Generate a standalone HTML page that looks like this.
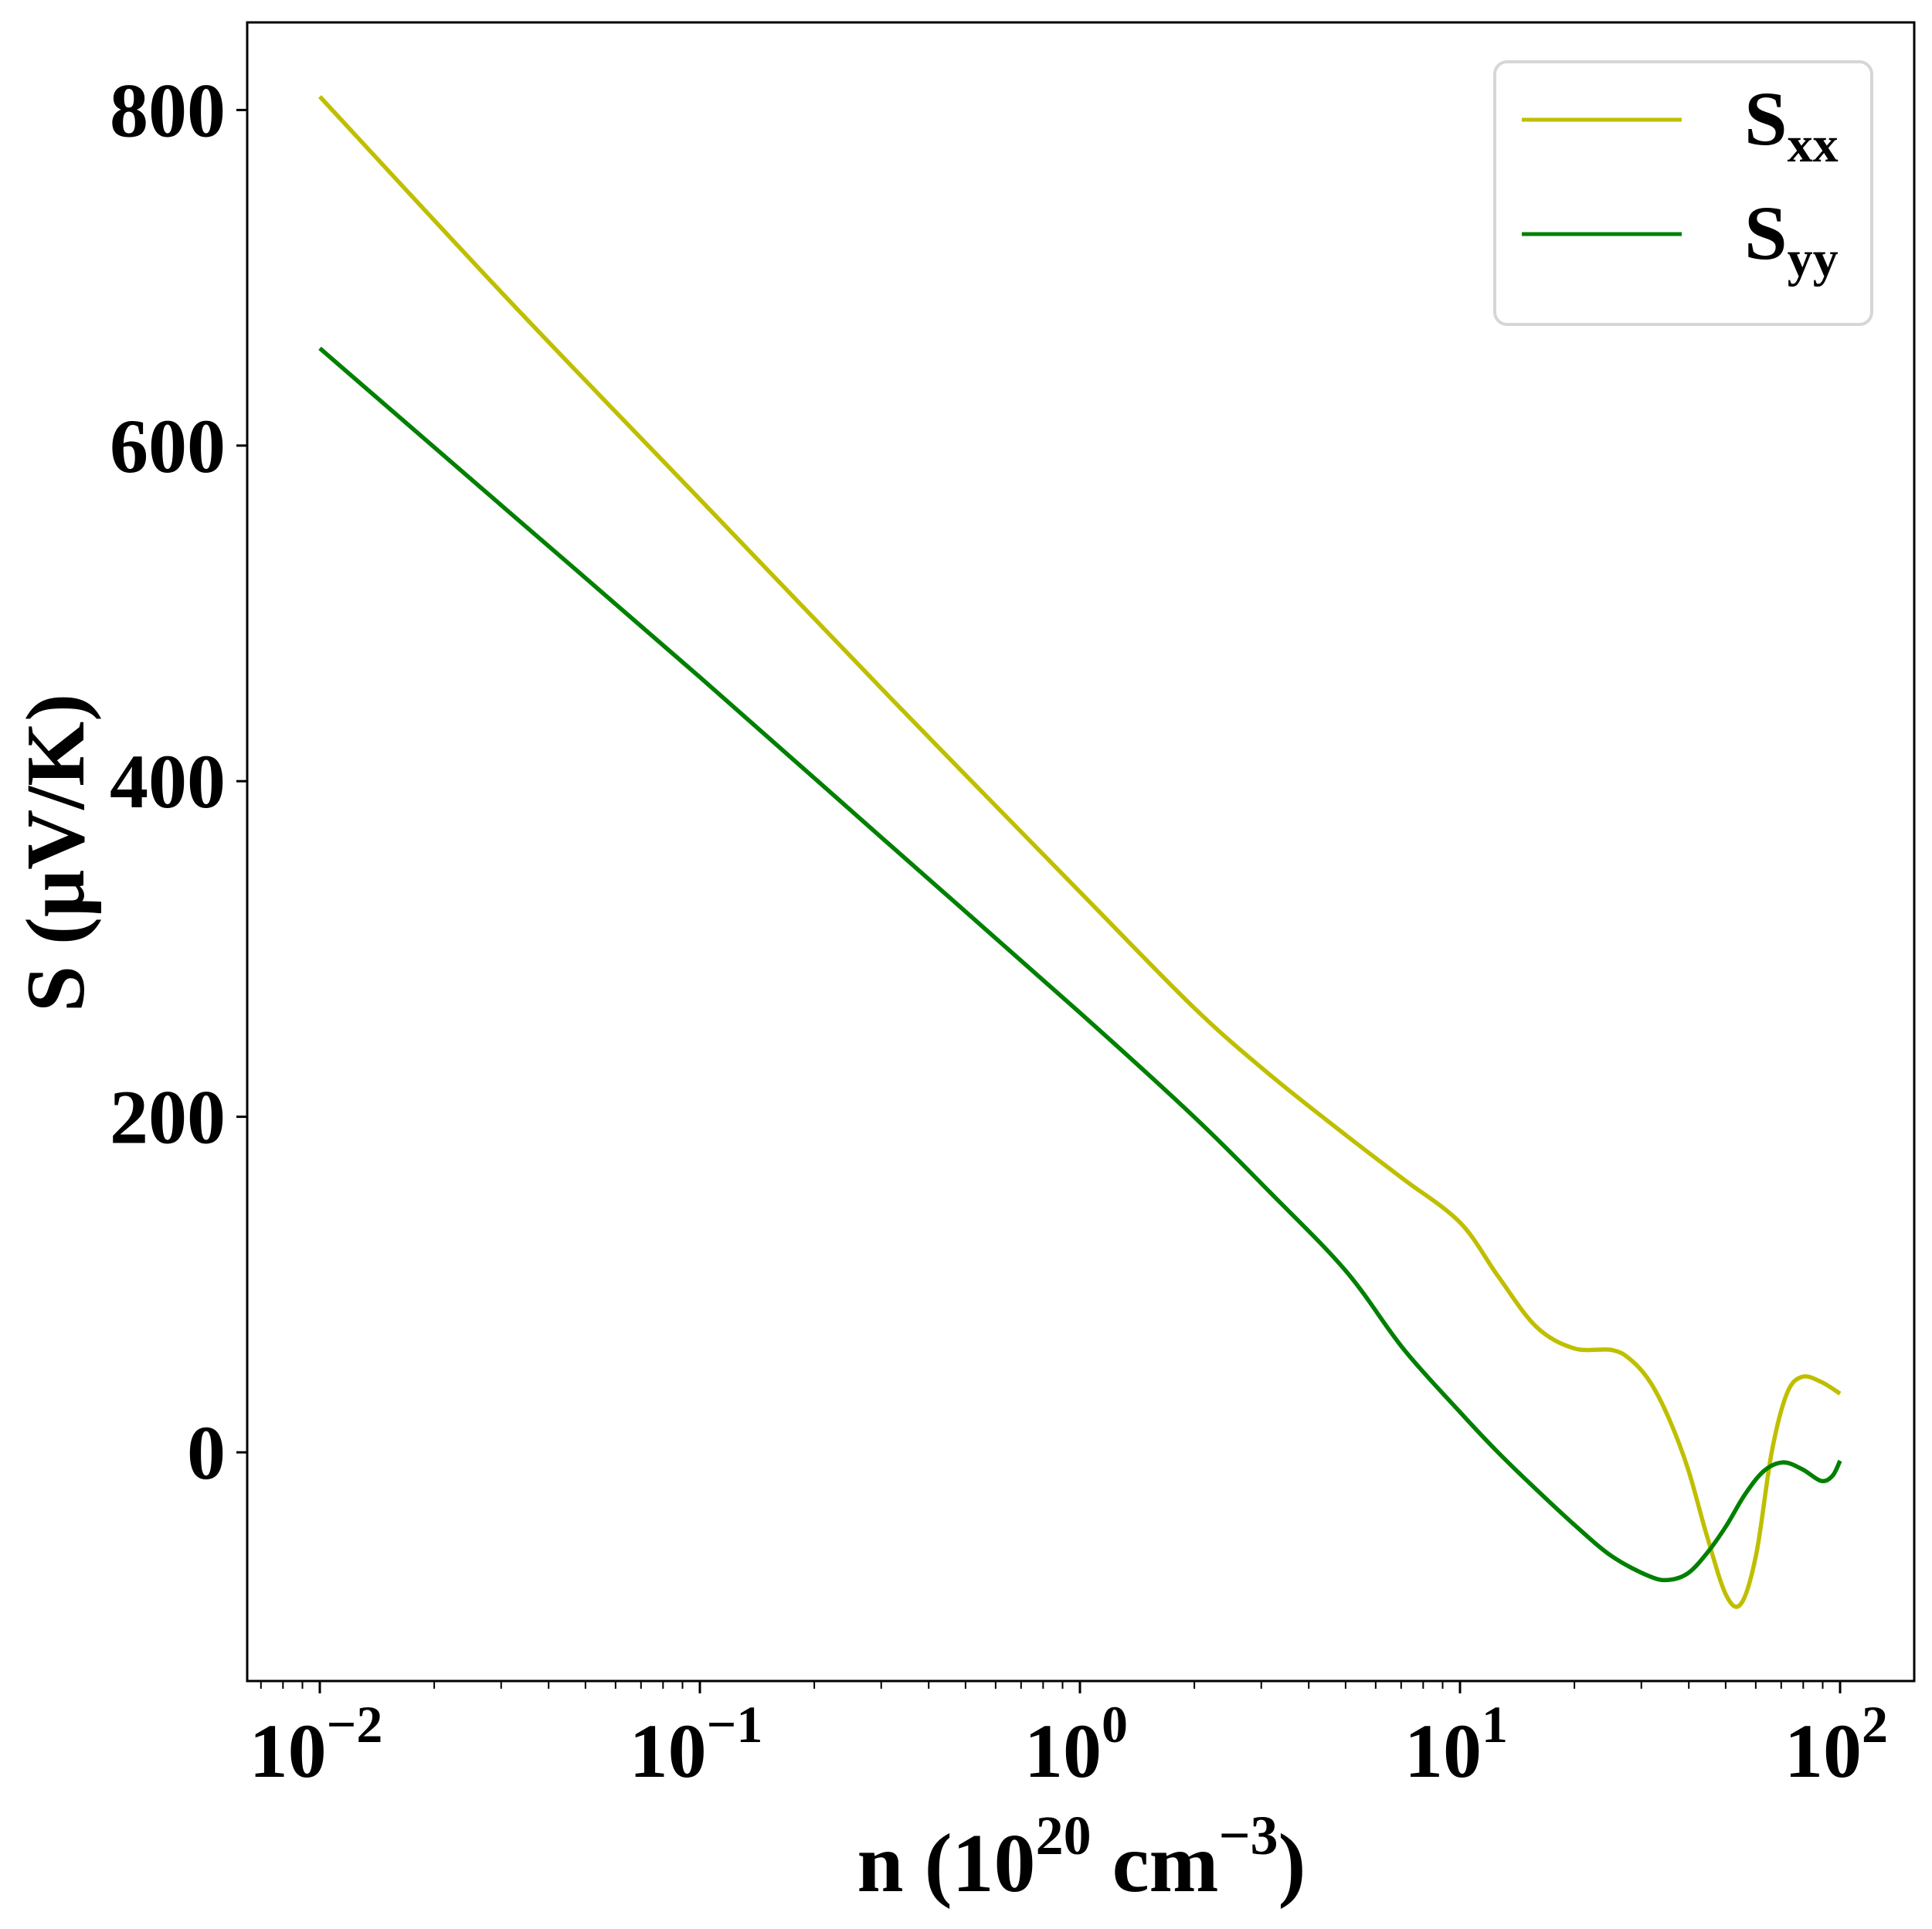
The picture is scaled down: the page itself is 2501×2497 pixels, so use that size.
<!DOCTYPE html>
<html><head><meta charset="utf-8"><style>
html,body{margin:0;padding:0;background:#fff;}
svg text{font-family:"Liberation Serif",serif;font-weight:bold;fill:#000;}
</style></head><body>
<svg id="chart" width="2501" height="2492" viewBox="0 0 2501 2492" xmlns="http://www.w3.org/2000/svg">
<g id="axes"></g>
<g id="series"></g>
<rect x="320" y="29" width="2158" height="2147" fill="none" stroke="#000" stroke-width="3"/>
<g>
<rect x="1935" y="80" width="488" height="340" rx="16" fill="#fff" stroke="#d6d6d6" stroke-width="4"/>
<line x1="1970" y1="155" x2="2177" y2="155" stroke="#bfbf00" stroke-width="5"/>
<text x="2258" y="187" font-size="100">S<tspan font-size="66" dy="22">xx</tspan></text>
<line x1="1970" y1="303" x2="2177" y2="303" stroke="#008000" stroke-width="5"/>
<text x="2258" y="335" font-size="100">S<tspan font-size="66" dy="22">yy</tspan></text>
</g>
<text x="1400" y="2448" font-size="108" text-anchor="middle">n (10<tspan font-size="72" dy="-48">20</tspan><tspan dy="48"> cm</tspan><tspan font-size="72" dy="-48">−3</tspan><tspan dy="48">)</tspan></text>
<text transform="translate(108,1104) rotate(-90)" font-size="108" text-anchor="middle">S (μV/K)</text>
</svg>
<script>
const logN = [-2,-1.5,-1,-0.5,0,0.3,0.5,0.7,0.85,1.0,1.1,1.2,1.3,1.4,1.45,1.5,1.55,1.6,1.65,1.7,1.74,1.78,1.82,1.86,1.9,1.95,2.0];
const sxx = [808,686,568,450,334,265,225,189,163,137,105,75,62,61,55,42,20,-10,-50,-85,-90,-60,0,35,45,42,35];
const logNyy = [-2,-1.5,-1,-0.5,0,0.3,0.5,0.7,0.85,1.0,1.1,1.2,1.3,1.4,1.5,1.55,1.6,1.65,1.7,1.75,1.8,1.85,1.9,1.95,1.98,2.0];
const syy = [658,560,462,362,262,200,155,108,62,24,0,-22,-43,-62,-74,-76,-72,-60,-44,-25,-11,-6,-10,-17,-14,-5];
const yTicks = [0,200,400,600,800];
const xDecades = [-2,-1,0,1,2];
const xTickLabels = ["−2","−1","0","1","2"];

const NS="http://www.w3.org/2000/svg";
function xs(l){return 1398 + l*492;}
function ys(v){return 1880 - v*434.4/200;}
function mk(tag,attrs,parent){const e=document.createElementNS(NS,tag);for(const k in attrs)e.setAttribute(k,attrs[k]);parent.appendChild(e);return e;}
const axes=document.getElementById('axes'), ser=document.getElementById('series');

yTicks.forEach(v=>{
  const t=mk('line',{x1:306,x2:320,y1:ys(v),y2:ys(v),stroke:'#000','stroke-width':3},axes);
  
  
  const tx=mk('text',{x:292,y:ys(v)+34,'font-size':100,'text-anchor':'end'},axes);
  tx.textContent=String(v);
  
  
});
xDecades.forEach((d,i)=>{
  const t=mk('line',{x1:xs(d),x2:xs(d),y1:2176,y2:2192,stroke:'#000','stroke-width':3},axes);
  
  
  const tx=mk('text',{x:xs(d)-5,y:2300,'font-size':100,'text-anchor':'middle'},axes);
  tx.innerHTML='10<tspan font-size="68" dy="-45">'+xTickLabels[i]+'</tspan>';
  
  
});
for(let d=-3;d<=2;d++){for(let m=2;m<=9;m++){const l=d+Math.log10(m);const x=xs(l);if(x<320||x>2478)continue;
  const t=mk('line',{x1:x,x2:x,y1:2176,y2:2186,stroke:'#000','stroke-width':2},axes);
  
  
}}
function path(xsArr,vals){
  const p=xsArr.map((l,i)=>[xs(l),ys(vals[i])]);
  let d='M'+p[0][0]+','+p[0][1];
  for(let i=0;i<p.length-1;i++){
    const p0=p[Math.max(0,i-1)],p1=p[i],p2=p[i+1],p3=p[Math.min(p.length-1,i+2)];
    const c1=[p1[0]+(p2[0]-p0[0])/6,p1[1]+(p2[1]-p0[1])/6];
    const c2=[p2[0]-(p3[0]-p1[0])/6,p2[1]-(p3[1]-p1[1])/6];
    d+=' C'+c1+' '+c2+' '+p2;
  }
  return d;
}
const l1=mk('path',{d:path(logN,sxx),fill:'none',stroke:'#bfbf00','stroke-width':5.5},ser);


const l2=mk('path',{d:path(logNyy,syy),fill:'none',stroke:'#008000','stroke-width':5.5},ser);


</script>
</body></html>
